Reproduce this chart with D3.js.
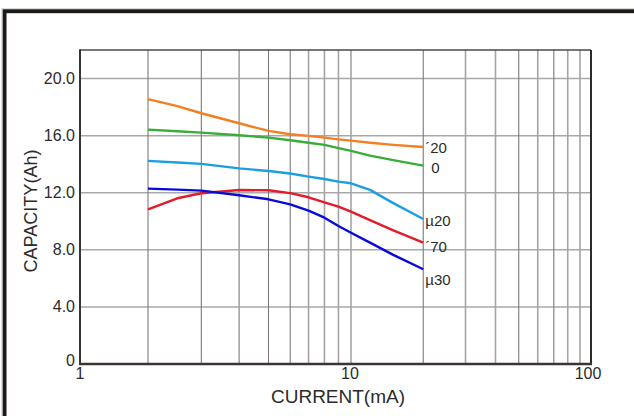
<!DOCTYPE html>
<html>
<head>
<meta charset="utf-8">
<script src="https://cdn.jsdelivr.net/npm/d3@7/dist/d3.min.js"></script>
<style>
  html, body { margin: 0; padding: 0; background: #fff; }
  svg { display: block; font-family: "Liberation Sans", Arial, sans-serif; }
</style>
</head>
<body>
<svg id="chart" width="634" height="416"></svg>
<script>
// ---- data ----
const currents = [2, 2.5, 3, 4, 5, 6, 7, 8, 9, 10, 12, 15, 20];
const capPlus20  = [18.56, 18.07, 17.57, 16.87, 16.33, 16.10, 15.98, 15.86, 15.74, 15.65, 15.50, 15.35, 15.20];
const capZero    = [16.42, 16.31, 16.21, 16.03, 15.86, 15.68, 15.50, 15.35, 15.12, 14.93, 14.60, 14.28, 13.90];
const capMinus20 = [14.23, 14.12, 14.02, 13.71, 13.52, 13.35, 13.13, 12.96, 12.78, 12.66, 12.20, 11.27, 10.16];
const capPlus70  = [10.84, 11.61, 11.96, 12.19, 12.17, 11.97, 11.68, 11.33, 11.02, 10.67, 10.08,  9.36,  8.50];
const capMinus30 = [12.29, 12.22, 12.15, 11.82, 11.54, 11.18, 10.74, 10.25,  9.67,  9.20,  8.50,  7.65,  6.64];
const seriesLabels = ["\u00B420", "0", "\u00B520", "\u00B470", "\u00B530"];
const xTickLabels = ["1", "10", "100"];
const xTickValues = [1, 10, 100];
const xGridValues = [2,3,4,5,6,7,8,9,10,20,30,40,50,60,70,80,90];
const yTickValues = [0, 4, 8, 12, 16, 20];
const yTickLabels = ["0", "4.0", "8.0", "12.0", "16.0", "20.0"];

// ---- styles ----
const colors = ["#f47f20", "#38ae38", "#1b9fe2", "#e31b2a", "#0a0ad8"];
const labelDy = [0, 2, 2, 4, 10];
const darkGrid = new Set([2, 3, 5, 6, 20, 50, 70]);

const svg = d3.select("#chart");
const L = 80, R = 591, T = 50, B = 364;

// The original sheet's log axis is slightly uneven; a piecewise log scale follows it.
const x = d3.scaleLog().domain([1, 2, 5, 10, 100]).range([L, 148, 268.5, 351, R]);
const y = d3.scaleLinear().domain([0, 22]).range([B, T]);

// outer frame
svg.append("rect").attr("x", 4.5).attr("y", 11.2).attr("width", 660).attr("height", 440)
  .attr("fill", "none").attr("stroke", "#1d1917").attr("stroke-width", 4);
svg.append("rect").attr("x", 1.8).attr("y", 8.6).attr("width", 660).attr("height", 440)
  .attr("fill", "none").attr("stroke", "#d6d6d6").attr("stroke-width", 1);

// horizontal grid
svg.append("g").selectAll("line").data(yTickValues.filter(v => v > 0)).join("line")
  .attr("x1", L).attr("x2", R).attr("y1", d => y(d)).attr("y2", d => y(d))
  .attr("stroke", "#a9a9a9").attr("stroke-width", 1.5);

// vertical grid
svg.append("g").selectAll("line").data(xGridValues).join("line")
  .attr("x1", d => x(d)).attr("x2", d => x(d)).attr("y1", T).attr("y2", B)
  .attr("stroke", d => darkGrid.has(d) ? "#7a7a7a" : "#a4a4a4")
  .attr("stroke-width", d => darkGrid.has(d) ? 1.1 : 1.6);

// plot border
svg.append("line").attr("x1", L).attr("x2", R).attr("y1", T).attr("y2", T)
  .attr("stroke", "#4a4a4a").attr("stroke-width", 1.4);
svg.append("line").attr("x1", R).attr("x2", R).attr("y1", T).attr("y2", B)
  .attr("stroke", "#2e2a28").attr("stroke-width", 2);
svg.append("line").attr("x1", L).attr("x2", L).attr("y1", T - 0.7).attr("y2", B)
  .attr("stroke", "#3a3432").attr("stroke-width", 2);
svg.append("line").attr("x1", L - 1).attr("x2", R + 1).attr("y1", B).attr("y2", B)
  .attr("stroke", "#3a3432").attr("stroke-width", 2.4);

// y tick labels
svg.append("g").selectAll("text").data(yTickValues).join("text")
  .attr("x", L - 5).attr("y", (d, i) => y(d) + (d === 0 ? -4 : 0))
  .attr("text-anchor", "end").attr("dominant-baseline", "central")
  .attr("font-size", 16).attr("fill", "#2b2b2b")
  .text((d, i) => yTickLabels[i]);

// x tick labels
svg.append("g").selectAll("text").data(xTickValues).join("text")
  .attr("x", (d, i) => x(d) + (i === 1 ? -1 : (i === 2 ? -3 : 0))).attr("y", 373)
  .attr("text-anchor", "middle").attr("dominant-baseline", "central")
  .attr("font-size", 16).attr("fill", "#2b2b2b")
  .text((d, i) => xTickLabels[i]);

// axis titles
svg.append("text").attr("x", 338).attr("y", 403.3).attr("text-anchor", "middle")
  .attr("font-size", 19).attr("fill", "#2b2b2b").attr("textLength", 134).attr("lengthAdjust", "spacingAndGlyphs")
  .text("CURRENT(mA)");
svg.append("text").attr("transform", "translate(37,211) rotate(-90)").attr("text-anchor", "middle")
  .attr("font-size", 19).attr("fill", "#2b2b2b").attr("textLength", 123).attr("lengthAdjust", "spacingAndGlyphs")
  .text("CAPACITY(Ah)");

// series
const allSeries = [capPlus20, capZero, capMinus20, capPlus70, capMinus30];
const line = d3.line().x((d, i) => x(currents[i])).y(d => y(d));
svg.append("g").selectAll("path").data(allSeries).join("path")
  .attr("d", d => line(d)).attr("fill", "none")
  .attr("stroke", (d, i) => colors[i]).attr("stroke-width", 2.4)
  .attr("stroke-linejoin", "round");

// end labels
const last = currents.length - 1;
svg.append("g").selectAll("text").data(allSeries).join("text")
  .attr("x", (d, i) => x(currents[last]) + (i === 1 ? 8 : 2))
  .attr("y", (d, i) => y(d[last]) + labelDy[i])
  .attr("dominant-baseline", "central")
  .attr("font-size", 15).attr("fill", "#2b2b2b")
  .text((d, i) => seriesLabels[i]);
</script>
</body>
</html>
